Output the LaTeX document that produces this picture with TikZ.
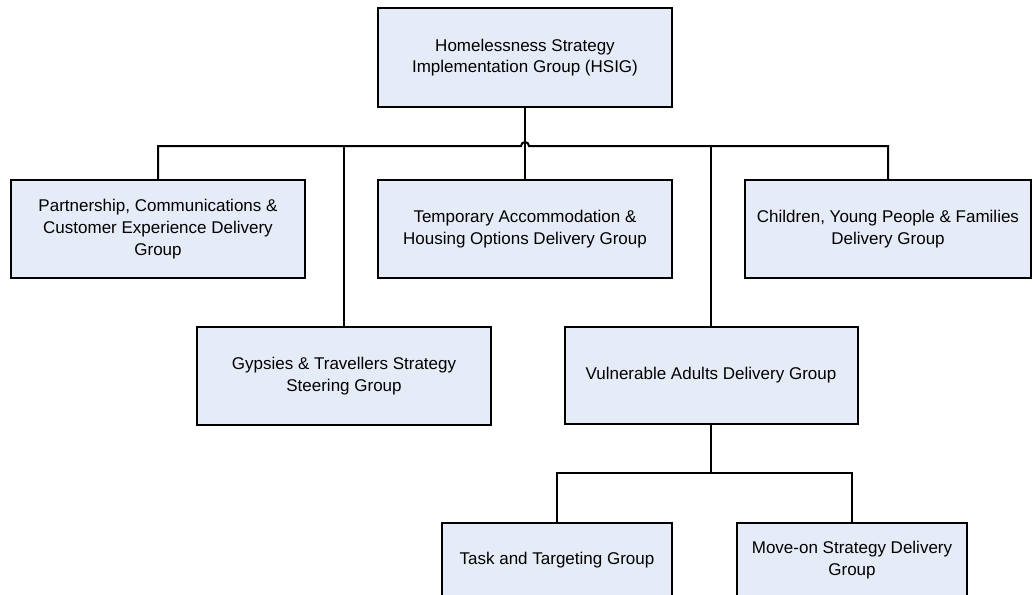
\documentclass[tikz,border=0pt]{standalone}
\usepackage{fontspec}
\setmainfont{Liberation Sans}
\definecolor{boxfill}{RGB}{230,236,247}

\begin{document}
\begin{tikzpicture}[x=1pt,y=-1pt,
			line width=2pt,
			group/.style={draw=black,fill=boxfill,align=center,inner sep=2pt,
				minimum width=294pt,minimum height=98pt,
				font=\fontsize{17}{21.7}\selectfont},
			small group/.style={group,minimum width=230pt,minimum height=74pt}]
\useasboundingbox (0,0) rectangle (1032,594);
\node[group] (hsig) at (525,57.5) {Homelessness Strategy\\Implementation Group (HSIG)};
\node[group] (par) at (158,229) {Partnership, Communications \&\\Customer Experience Delivery\\Group};
\node[group] (tmp) at (525,229) {Temporary Accommodation \&\\Housing Options Delivery Group};
\node[group,minimum width=286pt] (chi) at (888,229) {Children, Young People \& Families\\Delivery Group};
\node[group] (gyp) at (344,376) {Gypsies \& Travellers Strategy\\Steering Group};
\node[group,minimum width=293pt,minimum height=97pt] (vul) at (711,375.5) {Vulnerable Adults Delivery Group};
\node[small group] (tsk) at (557,560) {Task and Targeting Group};
\node[small group] (mov) at (852,560) {Move-on Strategy Delivery\\Group};
\coordinate (bus) at (0,146);
\coordinate (subbus) at (0,473);
% main bus, hopping over the HSIG line
\draw (par.north) -- (par.north |- bus) -- ([xshift=-4pt]hsig.south |- bus)
	arc[start angle=180,end angle=0,radius=4pt] -- (chi.north |- bus) -- (chi.north);
\draw (hsig.south) -- (tmp.north);
\draw (gyp.north) -- (gyp.north |- bus);
\draw (vul.north) -- (vul.north |- bus);
% vulnerable adults sub groups
\draw (vul.south) -- (vul.south |- subbus);
\draw (tsk.north) -- (tsk.north |- subbus) -- (mov.north |- subbus) -- (mov.north);
\end{tikzpicture}
\end{document}
